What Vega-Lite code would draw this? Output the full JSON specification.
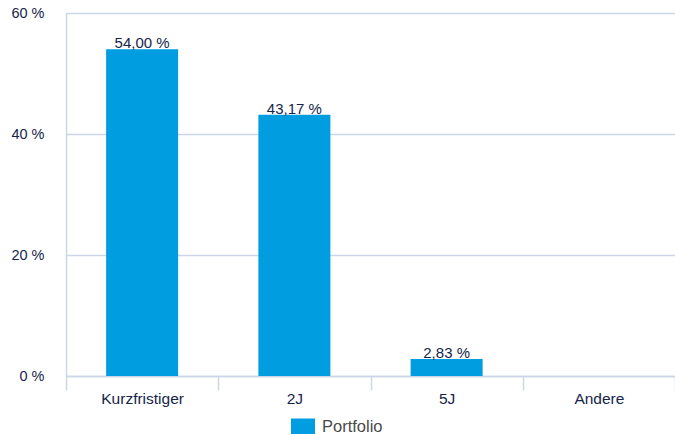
{
  "$schema": "https://vega.github.io/schema/vega-lite/v6.json",
  "width": 609,
  "height": 363,
  "autosize": {"type": "none"},
  "padding": {"left": 66, "top": 13, "right": 0, "bottom": 58},
  "config": {
    "view": {"stroke": null},
    "font": "Liberation Sans",
    "locale": {"number": {"decimal": ",", "thousands": ".", "grouping": [3], "currency": ["", " €"]}}
  },
  "data": {
    "values": [
      {"Kategorie": "Kurzfristiger", "Wert": 54.00, "Serie": "Portfolio"},
      {"Kategorie": "2J", "Wert": 43.17, "Serie": "Portfolio"},
      {"Kategorie": "5J", "Wert": 2.83, "Serie": "Portfolio"},
      {"Kategorie": "Andere", "Wert": 0, "Serie": "Portfolio"}
    ]
  },
  "encoding": {
    "x": {
      "field": "Kategorie",
      "type": "nominal",
      "sort": null,
      "scale": {"paddingInner": 0, "paddingOuter": 0},
      "axis": {
        "title": null,
        "labelAngle": 0,
        "labelFont": "Liberation Sans",
        "labelFontSize": 15.5,
        "labelColor": "#16254a",
        "labelPadding": 1,
        "tickBand": "extent",
        "tickSize": 14,
        "tickColor": "#ccd6e6",
        "tickWidth": 1.5,
        "domainColor": "#ccd6e6",
        "domainWidth": 1.5,
        "grid": false
      }
    },
    "y": {
      "field": "Wert",
      "type": "quantitative",
      "scale": {"domain": [0, 60], "nice": false},
      "axis": {
        "title": null,
        "values": [0, 20, 40, 60],
        "labelExpr": "datum.value + ' %'",
        "labelFont": "Liberation Sans",
        "labelFontSize": 14.5,
        "labelColor": "#16254a",
        "labelPadding": 22,
        "ticks": false,
        "grid": true,
        "gridColor": "#ccd6e6",
        "gridWidth": 1.5,
        "domainColor": "#ccd6e6",
        "domainWidth": 1.5
      }
    }
  },
  "layer": [
    {
      "mark": {"type": "bar", "size": 72, "color": "#009ee0"},
      "encoding": {
        "color": {
          "field": "Serie",
          "type": "nominal",
          "scale": {"range": ["#009ee0"]},
          "legend": {
            "title": null,
            "orient": "none",
            "legendX": 225,
            "legendY": 402,
            "padding": 0,
            "symbolType": "M-1,-0.708H1V0.708H-1Z",
            "symbolSize": 576,
            "symbolStrokeWidth": 0,
            "labelFont": "Liberation Sans",
            "labelFontSize": 16.5,
            "labelColor": "#4a4a4a",
            "labelOffset": 7
          }
        }
      }
    },
    {
      "transform": [
        {"filter": "datum.Wert > 0"},
        {"calculate": "format(datum.Wert, '.2f') + ' %'", "as": "Label"}
      ],
      "mark": {
        "type": "text",
        "baseline": "alphabetic",
        "dy": -1,
        "font": "Liberation Sans",
        "fontSize": 15,
        "color": "#16254a"
      },
      "encoding": {"text": {"field": "Label"}}
    }
  ]
}
